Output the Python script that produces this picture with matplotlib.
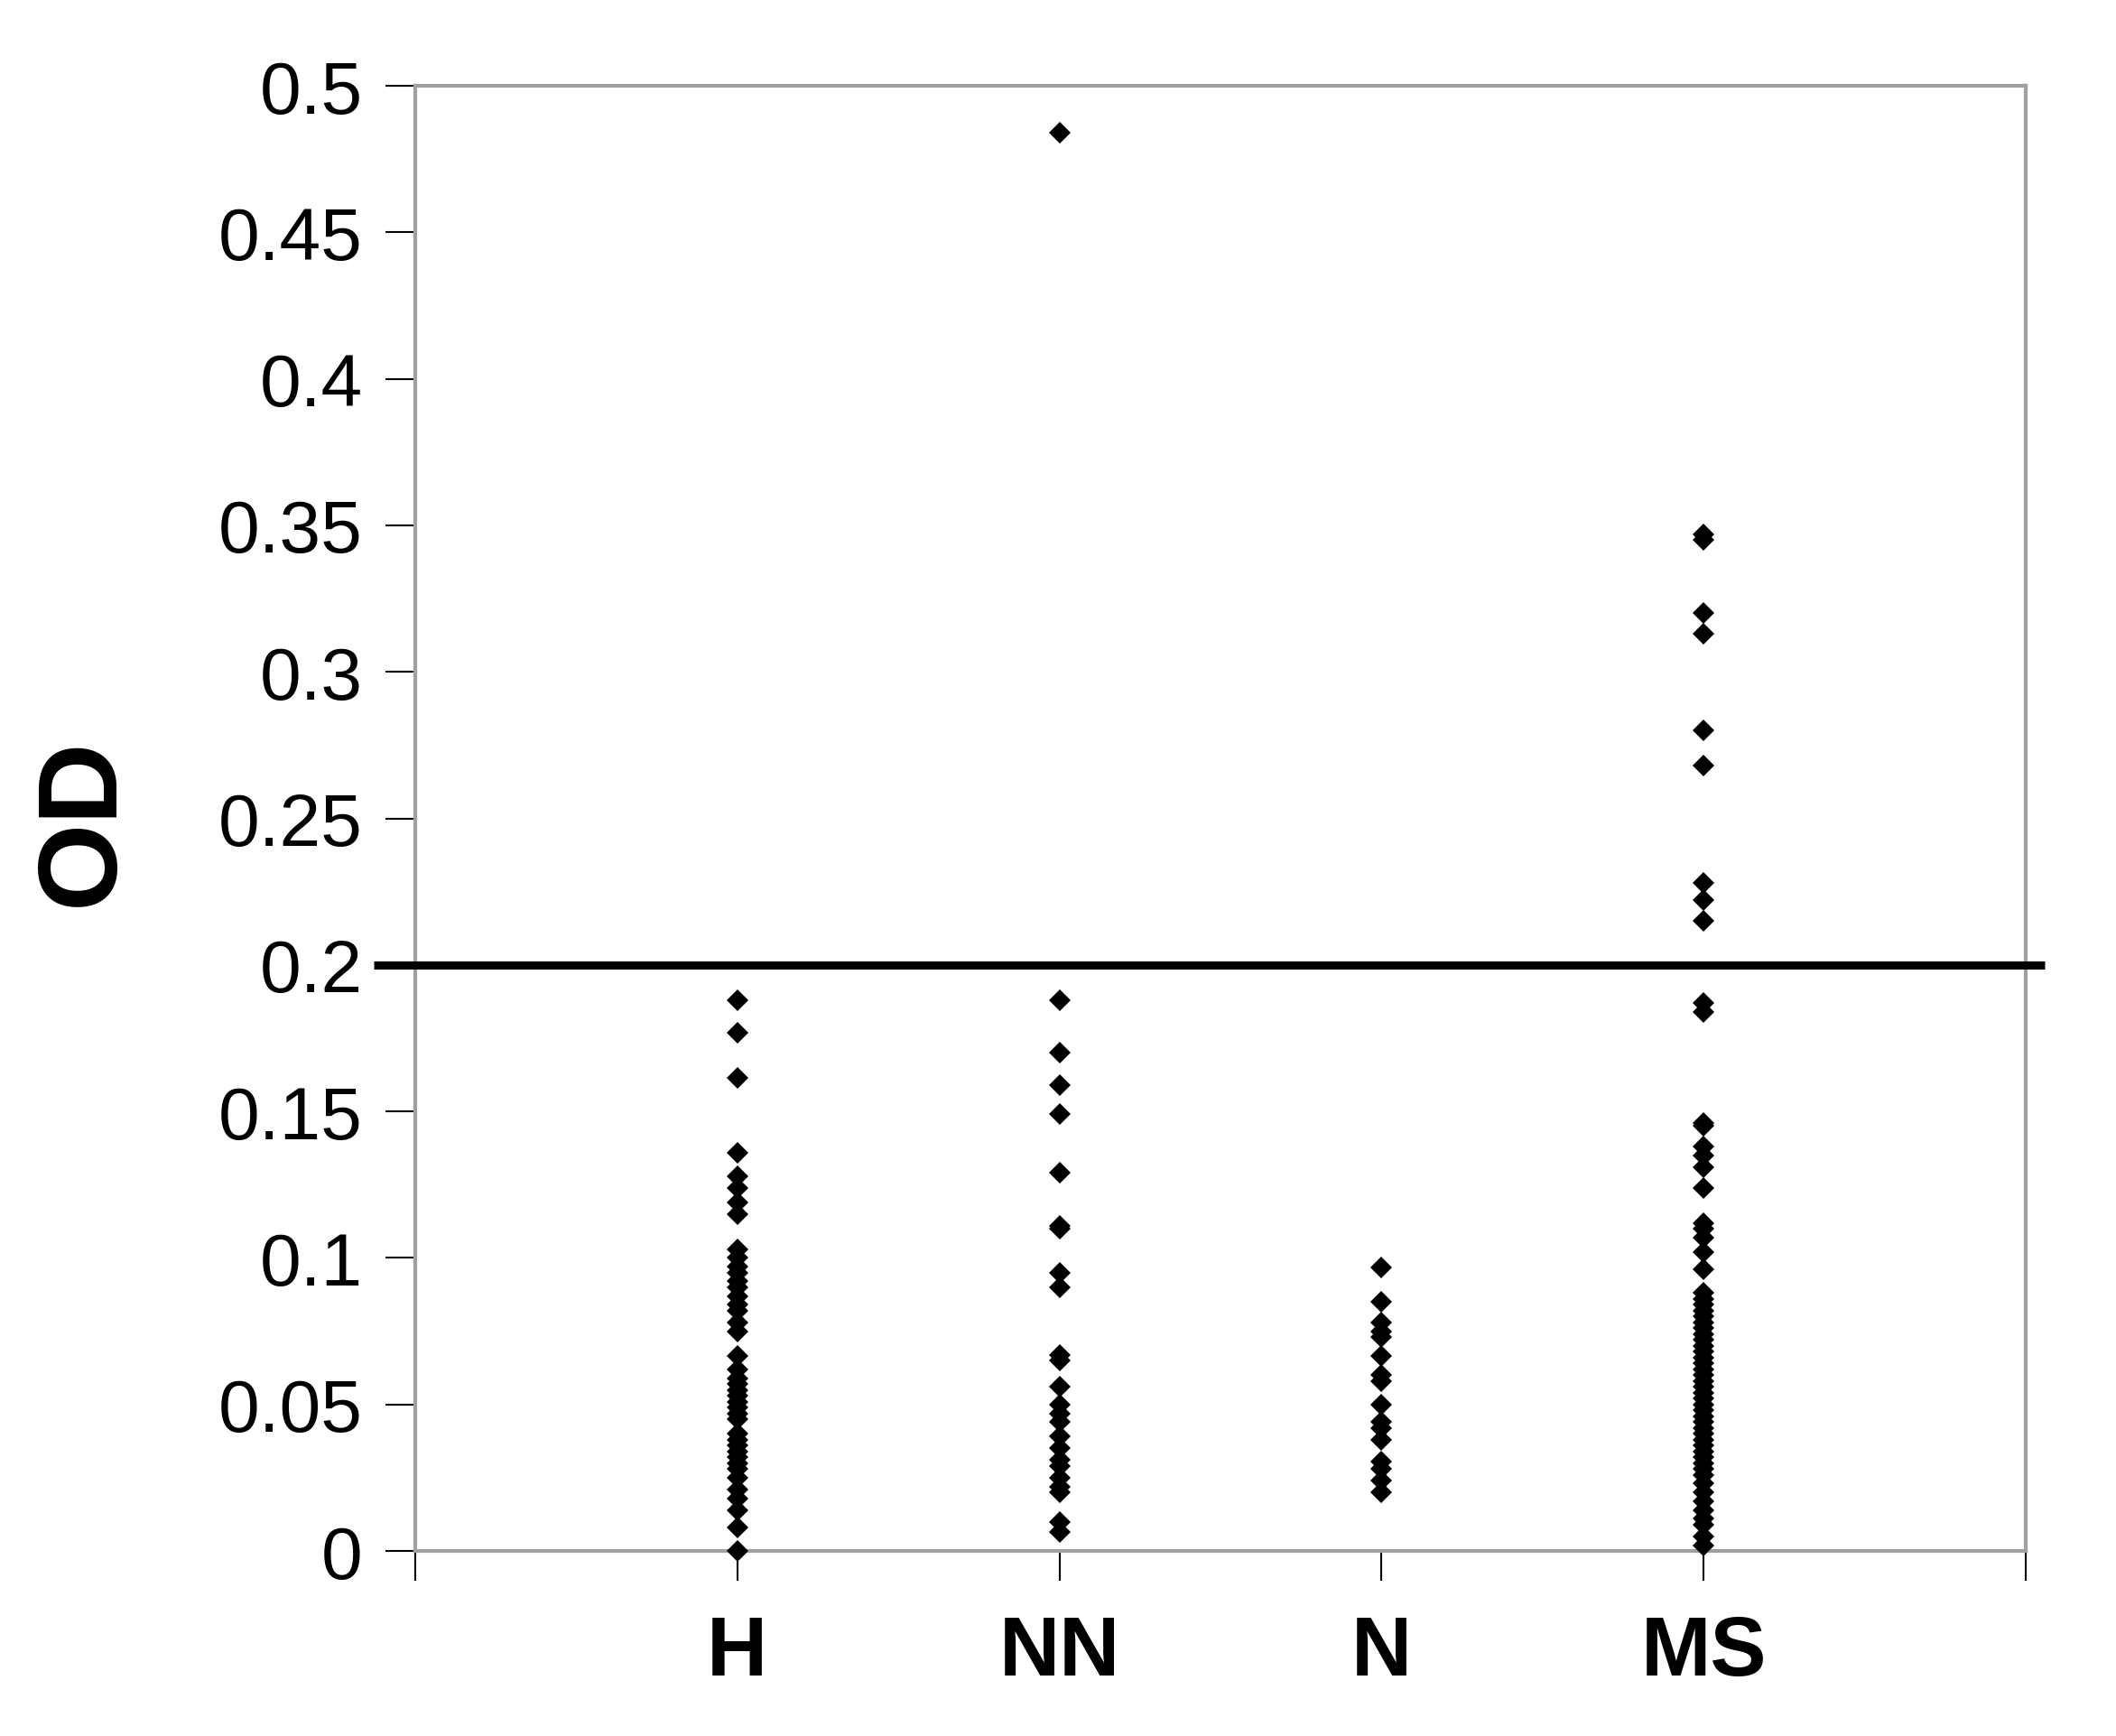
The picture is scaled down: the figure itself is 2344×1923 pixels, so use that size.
import numpy as np
import matplotlib.pyplot as plt
import matplotlib.transforms as mtransforms

plt.rcParams['font.family'] = ['Liberation Sans', 'DejaVu Sans']

# groups and their OD readings
groups = ['H', 'NN', 'N', 'MS']

od_h = [0.188, 0.177, 0.1615, 0.136, 0.128, 0.124, 0.119, 0.115,
        0.103, 0.100, 0.097, 0.095, 0.092, 0.090, 0.087, 0.084, 0.082,
        0.078, 0.075, 0.0665, 0.062, 0.059, 0.057, 0.055, 0.053, 0.051,
        0.049, 0.047, 0.045, 0.040, 0.038, 0.036, 0.034, 0.032, 0.030,
        0.028, 0.025, 0.021, 0.018, 0.014, 0.008, 0.0]

od_nn = [0.484, 0.188, 0.170, 0.159, 0.149, 0.129, 0.111, 0.110, 0.095,
         0.090, 0.067, 0.065, 0.056, 0.050, 0.047, 0.044, 0.039, 0.035,
         0.031, 0.029, 0.025, 0.022, 0.020, 0.010, 0.0065]

od_n = [0.0967, 0.085, 0.078, 0.075, 0.073, 0.0665, 0.060, 0.058, 0.050,
        0.044, 0.042, 0.038, 0.0305, 0.028, 0.024, 0.020]

od_ms = [0.347, 0.345, 0.320, 0.313, 0.280, 0.268, 0.228, 0.222, 0.215,
         0.187, 0.184, 0.146, 0.145, 0.138, 0.135, 0.131, 0.124, 0.112,
         0.110, 0.107, 0.102, 0.096,
         0.088, 0.086, 0.084, 0.082, 0.080, 0.078, 0.076, 0.074, 0.072,
         0.070, 0.068, 0.066, 0.064, 0.062, 0.060, 0.058, 0.056, 0.054,
         0.052, 0.050, 0.048, 0.046, 0.044, 0.042, 0.040, 0.038, 0.036,
         0.034, 0.032, 0.030, 0.028, 0.026, 0.023, 0.020, 0.017, 0.014,
         0.011, 0.009, 0.005, 0.002]

cutoff = 0.2
yticks = [0, 0.05, 0.1, 0.15, 0.2, 0.25, 0.3, 0.35, 0.4, 0.45, 0.5]
ytick_labels = ['0', '0.05', '0.1', '0.15', '0.2', '0.25', '0.3', '0.35', '0.4', '0.45', '0.5']

fig = plt.figure(figsize=(23.44, 19.24), dpi=100)
ax = fig.add_axes([0.1962, 0.1065, 0.7611, 0.8436])

for i, vals in enumerate([od_h, od_nn, od_n, od_ms]):
    ax.plot(np.full(len(vals), i + 1), vals, linestyle='none', marker='D',
            markersize=12, color='black', markeredgewidth=0, clip_on=False,
            zorder=4)

# cut-off line, runs a little past both spines like the original
ax.plot([-0.13, 5.06], [cutoff, cutoff], color='black', lw=6.5,
        clip_on=False, solid_capstyle='butt', zorder=3)

ax.set_xlim(0, 5)
ax.set_ylim(0, 0.5)
ax.set_xticks(range(6))
ax.set_xticklabels([''] + groups + [''], fontsize=67, fontweight='bold')
# category labels sit a touch right of their ticks in the original
shift = mtransforms.ScaledTranslation(6 / 100, 0, fig.dpi_scale_trans)
for lbl in ax.get_xticklabels():
    lbl.set_transform(lbl.get_transform() + shift)
ax.set_yticks(yticks)
ax.set_yticklabels(ytick_labels, fontsize=59)

for s in ax.spines.values():
    s.set_color('#a0a0a0')
    s.set_linewidth(3)

ax.tick_params(axis='y', direction='out', length=24, width=1.5, pad=18, color='black')
ax.tick_params(axis='x', direction='out', length=24, width=1.5, pad=26, color='black')

fig.text(93 / 2344, 1 - 910 / 1924, 'OD', rotation=90, ha='center', va='center',
         fontsize=90, fontweight='bold')

fig.savefig('out.png', dpi=100, facecolor='white')
